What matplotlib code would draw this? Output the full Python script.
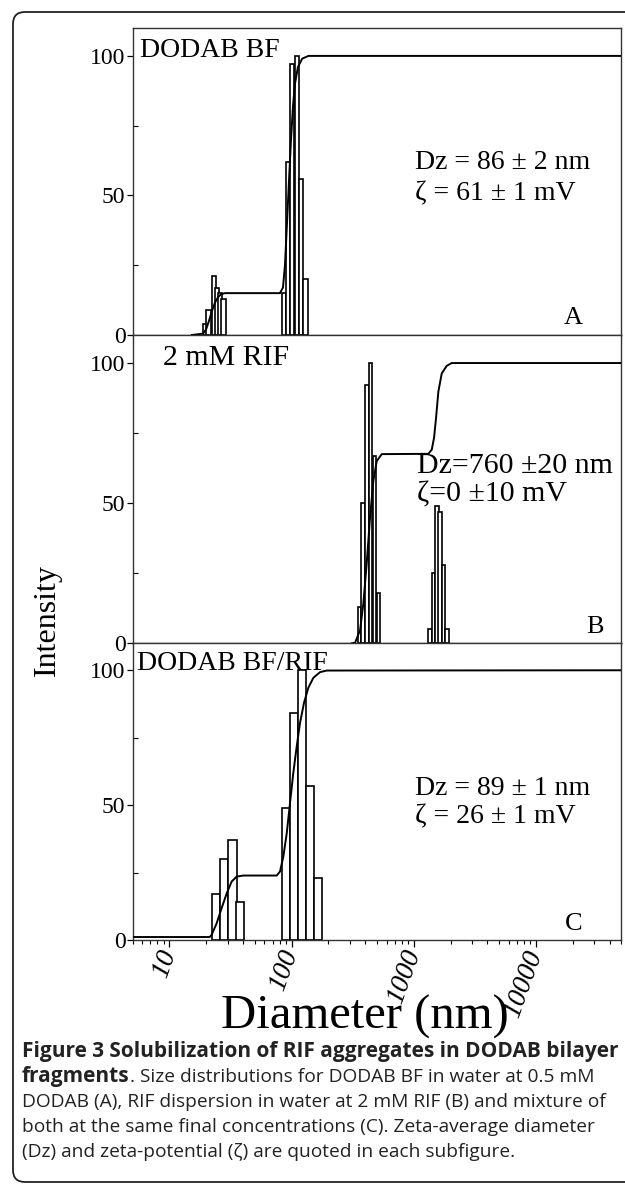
import matplotlib
matplotlib.use("Agg")
import matplotlib.pyplot as plt
import numpy as np
from matplotlib.patches import FancyBboxPatch
from matplotlib.ticker import FixedLocator, LogLocator, NullFormatter

# ---- data (diameters in nm, intensity in %) ----
# panel A: DODAB BF
a_bins = [19.6, 20.9, 23.1, 24.6, 26.1, 27.8, 86.3, 93.5, 101.5, 110.1, 119.4, 130.2]
a_heights = [4, 9, 21, 17, 15, 13, 15, 62, 97, 100, 56, 20]
a_curve_x = [15.3, 18.9, 20.0, 21.1, 22.3, 23.6, 25.0, 26.5, 28.5, 34.5, 80.4, 85.1,
             88.4, 91.8, 95.3, 99.0, 102.8, 106.7, 112.8, 122.2, 137.5, 50000]
a_curve_y = [0, 0.5, 2, 5, 8.5, 11.5, 13.5, 14.6, 15, 15, 15, 17,
             25, 40, 55, 70, 82, 90, 96, 99, 100, 100]

# panel B: 2 mM RIF
b_bins = [358.6, 384.6, 412.5, 441.5, 476, 513, 1359, 1447, 1543, 1641, 1747, 1873]
b_heights = [13, 50, 92, 100, 67, 18, 5, 25, 49, 47, 28, 5]
b_curve_x = [311, 331, 364, 387, 412, 439, 467, 498, 547, 1317, 1404, 1466,
             1522, 1590, 1695, 1862, 2046, 50000]
b_curve_y = [0, 0.2, 4.7, 14.2, 28.4, 44.9, 57.9, 65, 67.5, 67.6, 69.1, 73.3,
             80.4, 89.8, 96.3, 99, 100, 100]

# panel C: DODAB BF/RIF
c_bins = [24.0, 28.1, 32.9, 38.1, 89.8, 104.4, 121.4, 141.7, 165.4]
c_heights = [17, 30, 37, 14, 49, 84, 100, 57, 23]
c_curve_x = [5, 21.4, 22.2, 24.4, 26.8, 29.5, 32.4, 35.6, 40.3, 75.7, 80.5, 85.7,
             91.4, 97.2, 103.4, 110.3, 117.4, 126.6, 137.3, 150.8, 171.1, 194.1, 50000]
c_curve_y = [1.1, 1.1, 1.9, 6.2, 11.8, 17.3, 21.7, 23.5, 23.9, 23.9, 25.4, 30.9,
             39.6, 50.8, 61.9, 71.8, 80.5, 88, 93.5, 97.2, 99.3, 99.9, 100]

x_ticks = [10, 100, 1000, 10000]
x_tick_labels = ["10", "100", "1000", "10000"]
y_ticks = [0, 50, 100]

panels = [
    dict(bins=a_bins, heights=a_heights, cx=a_curve_x, cy=a_curve_y, bw=0.034,
         name="DODAB BF", name_pos=(0.015, 0.905), fs=20,
         dz="Dz = 86 \u00b1 2 nm", zeta="\u03b6 = 61 \u00b1 1 mV",
         dz_pos=(0.578, 0.54), zeta_pos=(0.578, 0.44), letter="A", letter_x=0.921),
    dict(bins=b_bins, heights=b_heights, cx=b_curve_x, cy=b_curve_y, bw=0.029,
         name="2 mM RIF", name_pos=(0.062, 0.903), fs=21.5,
         dz="Dz=760 \u00b120 nm", zeta="\u03b6=0 \u00b110 mV",
         dz_pos=(0.581, 0.551), zeta_pos=(0.581, 0.459), letter="B", letter_x=0.963),
    dict(bins=c_bins, heights=c_heights, cx=c_curve_x, cy=c_curve_y, bw=0.066,
         name="DODAB BF/RIF", name_pos=(0.009, 0.91), fs=20,
         dz="Dz = 89 \u00b1 1 nm", zeta="\u03b6 = 26 \u00b1 1 mV",
         dz_pos=(0.578, 0.489), zeta_pos=(0.578, 0.394), letter="C", letter_x=0.921),
]

serif = "Liberation Serif"
plt.rcParams['font.family'] = [serif, 'DejaVu Serif']

W, H = 625, 1187
fig = plt.figure(figsize=(W / 100, H / 100), dpi=100)

# rounded frame around figure + caption
frame = FancyBboxPatch((0.13, 0.05), 6.6, 11.70,
                       boxstyle="round,pad=0,rounding_size=0.12",
                       transform=fig.dpi_scale_trans, facecolor="none",
                       edgecolor="#222222", linewidth=1.3)
fig.patches.append(frame)

# axes boxes in pixels (left, top, right, bottom)
boxes = [(132.5, 28, 621.4, 335), (132.5, 335, 621.4, 643.3), (132.5, 643.3, 621.4, 940)]

for i, (p, b) in enumerate(zip(panels, boxes)):
    l, t, r, bt = b
    ax = fig.add_axes([l / W, 1 - bt / H, (r - l) / W, (bt - t) / H])
    ax.set_xscale("log")
    ax.set_xlim(5, 50000)
    ax.set_ylim(0, 110)

    c = np.array(p["bins"])
    lo = c * 10 ** (-p["bw"] / 2)
    hi = c * 10 ** (p["bw"] / 2)
    ax.bar(lo, p["heights"], width=hi - lo, align="edge", facecolor="white",
           edgecolor="black", linewidth=1.2, zorder=2)
    ax.plot(p["cx"], p["cy"], color="black", linewidth=1.4, zorder=3)

    for s in ax.spines.values():
        s.set_linewidth(1.0)
        s.set_color("#333333")

    ax.yaxis.set_major_locator(FixedLocator(y_ticks))
    ax.yaxis.set_minor_locator(FixedLocator([25, 75]))
    ax.tick_params(axis="y", which="major", direction="out", length=4, width=0.9,
                   labelsize=17, pad=1)
    ax.tick_params(axis="y", which="minor", direction="in", length=3.5, width=0.8)
    ax.xaxis.set_major_locator(FixedLocator(x_ticks))
    ax.xaxis.set_minor_locator(LogLocator(base=10, subs=np.arange(2, 10)))
    ax.xaxis.set_minor_formatter(NullFormatter())
    ax.tick_params(axis="x", which="major", direction="out", length=5, width=0.9)
    ax.tick_params(axis="x", which="minor", direction="out", length=3, width=0.8)

    if i < 2:
        ax.set_xticklabels([])
    else:
        ax.set_xticklabels(x_tick_labels, rotation=70, ha="right", va="center",
                           rotation_mode="anchor", fontsize=20, style="italic")
        ax.tick_params(axis="x", which="major", pad=3)

    fs = p["fs"]
    ax.text(*p["name_pos"], p["name"], transform=ax.transAxes, fontsize=fs,
            ha="left", va="baseline")
    ax.text(*p["dz_pos"], p["dz"], transform=ax.transAxes, fontsize=fs,
            ha="left", va="baseline")
    ax.text(*p["zeta_pos"], p["zeta"], transform=ax.transAxes, fontsize=fs,
            ha="left", va="baseline")
    ax.text(p["letter_x"], 0.035, p["letter"], transform=ax.transAxes, fontsize=19,
            ha="right", va="baseline")

fig.text(47 / W, 1 - 620 / H, "Intensity", rotation=90, fontsize=23,
         ha="center", va="center")
fig.text(365 / W, 1 - 1017 / H, "Diameter (nm)", fontsize=35,
         ha="center", va="center")

# caption
sans = "Open Sans"
cap_x = 22 / W
bold_size = 15.0
reg_size = 13.8
ink = "#222222"
base = [1057, 1082, 1107, 1132, 1157]
fig.text(cap_x, 1 - base[0] / H, "Figure 3 Solubilization of RIF aggregates in DODAB bilayer",
         family=sans, weight="bold", fontsize=bold_size, va="baseline", color=ink)
t_bold = fig.text(cap_x, 1 - base[1] / H, "fragments", family=sans, weight="bold",
                  fontsize=bold_size, va="baseline", color=ink)
fig.canvas.draw()
bb = t_bold.get_window_extent(renderer=fig.canvas.get_renderer())
fig.text(bb.x1 / W, 1 - base[1] / H,
         ". Size distributions for DODAB BF in water at 0.5 mM",
         family=sans, fontsize=reg_size, va="baseline", color=ink)
rest = ["DODAB (A), RIF dispersion in water at 2 mM RIF (B) and mixture of",
        "both at the same final concentrations (C). Zeta-average diameter",
        "(Dz) and zeta-potential (\u03b6) are quoted in each subfigure."]
for line, yb in zip(rest, base[2:]):
    fig.text(cap_x, 1 - yb / H, line, family=sans, fontsize=reg_size,
             va="baseline", color=ink)

fig.savefig("out.png", dpi=100)
